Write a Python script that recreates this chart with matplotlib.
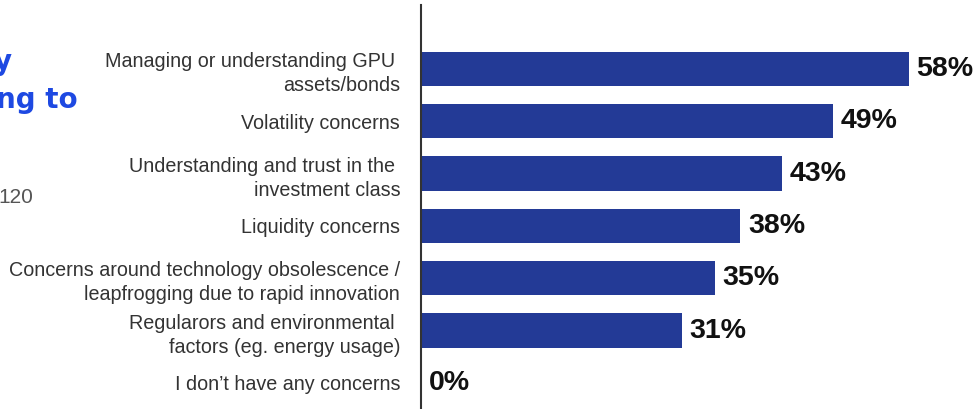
import matplotlib.pyplot as plt
import numpy as np

plt.rcParams['font.family'] = ['Liberation Sans', 'DejaVu Sans']

categories = [
    'Managing or understanding GPU \nassets/bonds',
    'Volatility concerns',
    'Understanding and trust in the \ninvestment class',
    'Liquidity concerns',
    'Concerns around technology obsolescence /\nleapfrogging due to rapid innovation',
    'Regularors and environmental \nfactors (eg. energy usage)',
    'I don\u2019t have any concerns',
]
values = [58, 49, 43, 38, 35, 31, 0]

fig = plt.figure(figsize=(9.8, 4.09), dpi=100)
ax = fig.add_axes([421 / 980, 0, 559 / 980, 404 / 409])

y = np.arange(len(values))
ax.barh(y, values, height=0.65, color='#233a96')
ax.set_ylim(6.5, -1.22)
ax.set_xlim(0, 66.5)

# percent labels at the bar ends
for yi, v in zip(y, values):
    ax.text(v + 0.9, yi, f'{v}%', va='center', ha='left',
            fontsize=20.5, fontweight='bold', color='#111111')

ax.set_yticks(y)
ax.set_yticklabels(categories, fontsize=14.2, color='#333333', linespacing=1.35)
ax.tick_params(axis='y', length=0, pad=15)
ax.set_xticks([])
for s in ['top', 'right', 'bottom']:
    ax.spines[s].set_visible(False)
ax.spines['left'].set_color('#333333')
ax.spines['left'].set_linewidth(1.5)

# title pieces, cut off at the left edge as in the source
fig.text(12 / 980, 1 - 62 / 409, 'y', ha='right', va='center',
         fontsize=20, fontweight='bold', color='#1e49e2', family=['DejaVu Sans'])
fig.text(78 / 980, 1 - 100 / 409, 'ng to', ha='right', va='center',
         fontsize=20, fontweight='bold', color='#1e49e2', family=['DejaVu Sans'])
fig.text(33 / 980, 1 - 197 / 409, '120', ha='right', va='center',
         fontsize=15, color='#555555', family=['Liberation Sans'])

fig.savefig('out.png', dpi=100)
